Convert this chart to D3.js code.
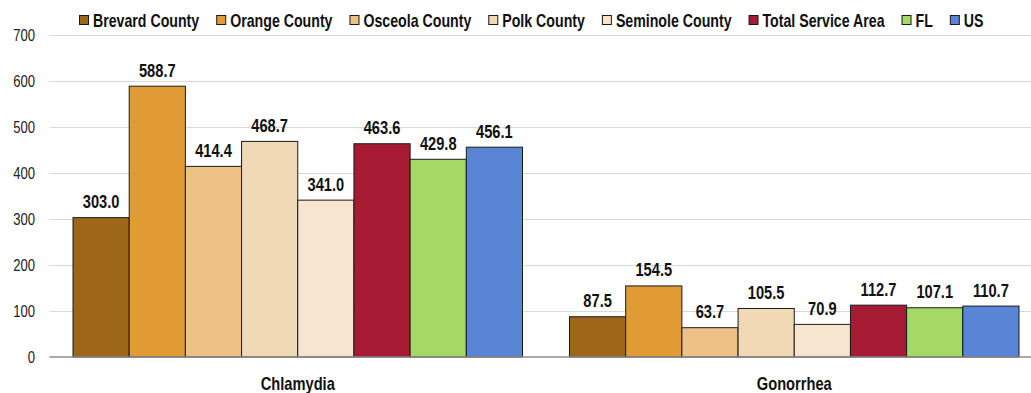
<!DOCTYPE html>
<html><head><meta charset="utf-8">
<script src="https://cdn.jsdelivr.net/npm/d3@7"></script>
<style>body{margin:0;background:#fff}svg{display:block;font-family:Arial,"Liberation Sans",sans-serif}</style>
</head><body><svg id="c" width="1031" height="393"></svg>
<script>
const categories = ["Chlamydia", "Gonorrhea"];
const seriesNames = ["Brevard County","Orange County","Osceola County","Polk County","Seminole County","Total Service Area","FL","US"];
const brevard = [303.0, 87.5];
const orange = [588.7, 154.5];
const osceola = [414.4, 63.7];
const polk = [468.7, 105.5];
const seminole = [341.0, 70.9];
const totalArea = [463.6, 112.7];
const fl = [429.8, 107.1];
const us = [456.1, 110.7];
const yTicks = [0,100,200,300,400,500,600,700];
const colors = ["#9e6618","#e09b34","#edc186","#f2d9b6","#f7e5cf","#a61a34","#a6d866","#5a84d6"];

const FONT = "Arial,'Liberation Sans',sans-serif";
const SX = 0.815; // horizontal condensing to mimic a narrow face
const seriesValues = [brevard, orange, osceola, polk, seminole, totalArea, fl, us];
const svg = d3.select("#c");
const x0 = d3.scaleBand().domain(categories).range([49.5, 1042.5]).padding(0);
const x1 = d3.scaleBand().domain(seriesNames).range([23.5, x0.bandwidth()-23.5]).padding(0);
const y = d3.scaleLinear().domain([0,700]).range([357,35]);

// gridlines
svg.append("g").selectAll("line").data(yTicks.filter(d=>d>0)).join("line")
  .attr("x1",49.5).attr("x2",1031).attr("y1",d=>Math.round(y(d))+0.5).attr("y2",d=>Math.round(y(d))+0.5)
  .attr("stroke","#d9d9d9").attr("stroke-width",1);

// y axis labels
const yAxis = d3.axisLeft(y).tickValues(yTicks).tickSize(0).tickPadding(0);
const ya = svg.append("g").attr("transform","translate(35,0)").call(yAxis);
ya.select(".domain").remove();
ya.selectAll(".tick text").attr("x",0).attr("font-size",16).attr("fill","#222").attr("font-family",FONT)
  .attr("dy","0.36em").attr("transform",`scale(${SX},1)`);

// bars
const groups = svg.append("g").selectAll("g").data(categories).join("g")
  .attr("transform",d=>`translate(${x0(d)},0)`);
groups.each(function(cat, ci){
  const g = d3.select(this);
  const data = seriesNames.map((s,si)=>({s, si, v: seriesValues[si][ci]}));
  g.selectAll("rect").data(data).join("rect")
    .attr("x",d=>x1(d.s)).attr("width",x1.bandwidth())
    .attr("y",d=>y(d.v)).attr("height",d=>y(0)-y(d.v))
    .attr("fill",d=>colors[d.si]).attr("stroke","#1a1a1a").attr("stroke-width",1);
  g.selectAll("text").data(data).join("text")
    .attr("transform",d=>`translate(${x1(d.s)+x1.bandwidth()/2},${y(d.v)-9.5}) scale(${SX},1)`)
    .attr("text-anchor","middle").attr("font-size",18).attr("font-weight","bold").attr("fill","#111")
    .attr("font-family",FONT)
    .text(d=>d.v.toFixed(1));
});

// baseline
svg.append("line").attr("x1",49.5).attr("x2",1031).attr("y1",357).attr("y2",357)
  .attr("stroke","#8c8c8c").attr("stroke-width",1.5);

// category labels
svg.append("g").selectAll("text").data(categories).join("text")
  .attr("transform",d=>`translate(${x0(d)+x0.bandwidth()/2},389.5) scale(${SX},1)`)
  .attr("text-anchor","middle").attr("font-size",18).attr("font-weight","bold").attr("fill","#111")
  .attr("font-family",FONT)
  .text(d=>d);

// legend
const lg = svg.append("g");
let lx = 79.5;
seriesNames.forEach((s,i)=>{
  lg.append("rect").attr("x",lx).attr("y",15.5).attr("width",9).attr("height",9)
    .attr("fill",colors[i]).attr("stroke","#1a1a1a").attr("stroke-width",1);
  const t = lg.append("text").attr("transform",`translate(${lx+13.5},26.5) scale(0.81,1)`)
    .attr("font-size",17.5).attr("font-weight","bold").attr("fill","#111")
    .attr("font-family",FONT).text(s);
  lx += 13.5 + t.node().getComputedTextLength()*0.81 + 17.5;
});
</script></body></html>
